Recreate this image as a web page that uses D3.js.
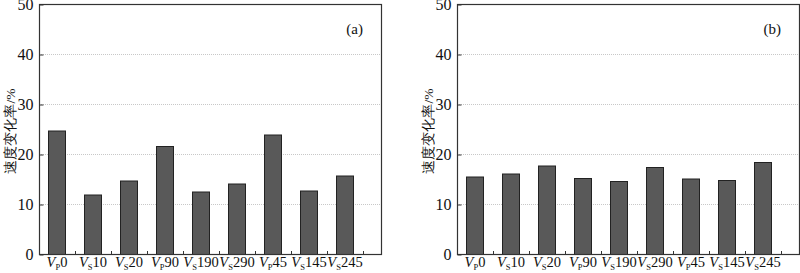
<!DOCTYPE html>
<html>
<head>
<meta charset="utf-8">
<script src="https://cdn.jsdelivr.net/npm/d3@7"></script>
<style>
  body { margin: 0; background: #fff; }
  svg text { font-family: "Liberation Serif", "Times New Roman", serif; fill: #111; }
</style>
</head>
<body>
<div id="chart"></div>
<script>
// categories: wave type + label number
const waveType = ["P", "S", "S", "P", "S", "S", "P", "S", "S"];
const waveNum  = ["0", "10", "20", "90", "190", "290", "45", "145", "245"];
const valuesA  = [24.7, 11.9, 14.7, 21.6, 12.5, 14.1, 23.9, 12.7, 15.7];
const valuesB  = [15.5, 16.1, 17.7, 15.2, 14.6, 17.4, 15.1, 14.8, 18.4];
const yTicks   = [0, 10, 20, 30, 40, 50];
const panelTags = ["(a)", "(b)"];

const W = 800, H = 273;
const svg = d3.select("#chart")
              .append("svg")
              .attr("width", W)
              .attr("height", H);

const panels = [
  { left: 39,  values: valuesA, tag: panelTags[0], labelX: 15 },
  { left: 457, values: valuesB, tag: panelTags[1], labelX: 433 }
];

const plotTop = 4, plotBottom = 254, plotW = 342, step = 36;
const cats = d3.range(waveType.length);

panels.forEach(p => {
    const g = svg.append("g");

    const yScale = d3.scaleLinear()
                     .domain([0, 50])
                     .range([plotBottom, plotTop]);

    const xScale = d3.scaleBand()
                     .domain(cats)
                     .range([p.left, p.left + step * cats.length])
                     .paddingInner(0.5)
                     .paddingOuter(0.25);

    // grid lines
    g.append("g")
     .selectAll("line")
     .data(yTicks.filter(d => d > 0 && d < 50))
     .join("line")
     .attr("x1", p.left)
     .attr("x2", p.left + plotW)
     .attr("y1", d => yScale(d) + 0.5)
     .attr("y2", d => yScale(d) + 0.5)
     .attr("stroke", "#c8c8c8")
     .attr("stroke-width", 1)
     .attr("stroke-dasharray", "1,1");

    // bars
    g.append("g")
     .selectAll("rect")
     .data(p.values)
     .join("rect")
     .attr("x", (d, i) => xScale(i) + 0.5)
     .attr("y", d => yScale(d) + 0.5)
     .attr("width", xScale.bandwidth() - 1)
     .attr("height", d => yScale(0) - yScale(d))
     .attr("fill", "#595959")
     .attr("stroke", "#222")
     .attr("stroke-width", 1);

    // frame
    g.append("rect")
     .attr("x", p.left + 0.5)
     .attr("y", plotTop + 0.5)
     .attr("width", plotW)
     .attr("height", plotBottom - plotTop)
     .attr("fill", "none")
     .attr("stroke", "#333")
     .attr("stroke-width", 1.2);

    // y axis
    const yAxis = d3.axisLeft(yScale)
                    .tickValues(yTicks)
                    .tickSizeInner(-4)
                    .tickSizeOuter(0)
                    .tickPadding(6);

    const ya = g.append("g")
                .attr("transform", `translate(${p.left + 0.5}, 0.5)`)
                .call(yAxis);
    ya.select(".domain").remove();
    ya.selectAll("line").attr("stroke", "#333");
    ya.selectAll("text")
      .attr("font-size", "16px")
      .attr("font-family", "Liberation Serif, serif")
      .attr("fill", "#111");

    // bottom separator ticks
    g.append("g")
     .selectAll("line")
     .data(cats.slice(1).concat([cats.length]))
     .join("line")
     .attr("x1", d => p.left + step * d + 0.5)
     .attr("x2", d => p.left + step * d + 0.5)
     .attr("y1", plotBottom)
     .attr("y2", plotBottom - 3)
     .attr("stroke", "#333");

    // x labels
    const lab = g.append("g")
                 .selectAll("text")
                 .data(cats)
                 .join("text")
                 .attr("x", d => xScale(d) + xScale.bandwidth() / 2)
                 .attr("y", 267)
                 .attr("text-anchor", "middle")
                 .attr("font-size", "14.5px");
    lab.append("tspan").attr("font-style", "italic").text("V");
    lab.append("tspan").attr("font-size", "8.5px").attr("dy", 3).text(d => waveType[d]);
    lab.append("tspan").attr("dy", -3).text(d => waveNum[d]);

    // y label
    g.append("text")
     .attr("transform", `translate(${p.labelX}, 131) rotate(-90)`)
     .attr("text-anchor", "middle")
     .attr("font-size", "13.5px")
     .attr("font-family", "Noto Sans CJK SC, serif")
     .attr("fill", "#222")
     .text("速度变化率/%");

    // panel tag
    g.append("text")
     .attr("x", p.left + plotW - 18)
     .attr("y", 34)
     .attr("text-anchor", "end")
     .attr("font-size", "15px")
     .text(p.tag);
});
</script>
</body>
</html>
